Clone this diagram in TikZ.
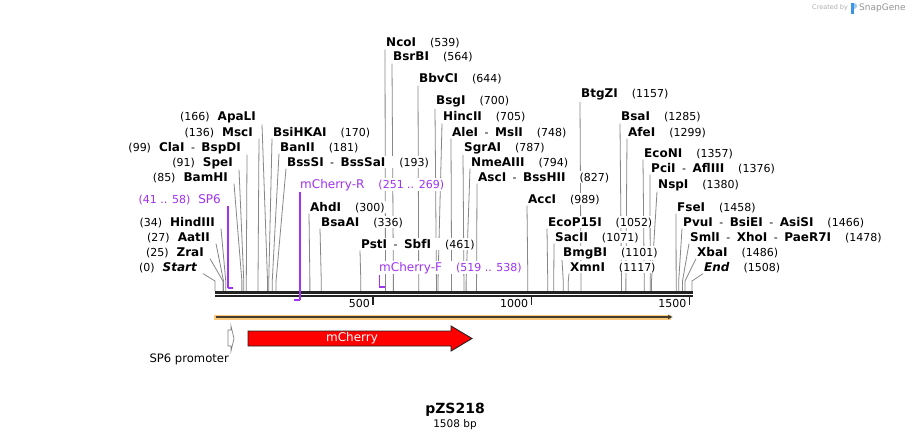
\documentclass[tikz,border=0pt]{standalone}
\usepackage{fontspec}
\setmainfont{DejaVu Sans}
\usetikzlibrary{arrows.meta}
\pgfdeclarelayer{bg}
\pgfsetlayers{bg,main}
\definecolor{linegray}{RGB}{135,135,135}
\definecolor{bbc}{RGB}{35,35,35}
\definecolor{primc}{RGB}{160,50,240}
\definecolor{orfc}{RGB}{250,200,120}
\definecolor{orfd}{RGB}{70,60,45}
\definecolor{featred}{RGB}{255,0,0}
\definecolor{cgray}{RGB}{175,175,175}
\definecolor{sgblue}{RGB}{60,150,230}
\newcommand\enz[1]{{\fontsize{12}{14}\selectfont\bfseries #1}}
\newcommand\ngap{\hspace{14pt}}
\newcommand\lgap{\hspace{8pt}}
\newcommand\sepd{\hspace{6.5pt}-\hspace{6.5pt}}
\begin{document}
\begin{tikzpicture}[x=1pt,y=-1pt,
  cutline/.style={draw=linegray,line width=0.8pt},
  lab/.style={fill=white,inner xsep=1pt,inner ysep=1pt,font=\fontsize{11}{13}\selectfont},
  rlab/.style={lab,anchor=base west},
  llab/.style={lab,anchor=base east},
  primer/.style={draw=primc,line width=2pt},
  primerlead/.style={draw=primc,line width=1.3pt},
  plab/.style={lab,text=primc},
  ticklab/.style={anchor=east,inner sep=0pt,font=\fontsize{11}{13}\selectfont},
]
\begin{pgfonlayer}{bg}
\fill[white] (0,0) rectangle (909,441);
\end{pgfonlayer}
\useasboundingbox (0,0) rectangle (909,441);

% right-hand labels
\foreach \i/\bp/\xx/\yy/\lbl in {
 r1/170/273/132/{\enz{BsiHKAI}\ngap(170)},
 r2/181/280/147/{\enz{BanII}\ngap(181)},
 r3/193/287/162/{\enz{BssSI}\sepd\enz{BssSaI}\ngap(193)},
 r4/300/310/207/{\enz{AhdI}\ngap(300)},
 r5/336/321/222/{\enz{BsaAI}\ngap(336)},
 r6/461/361/244/{\enz{PstI}\sepd\enz{SbfI}\ngap(461)},
 r7/539/386/43/{\enz{NcoI}\ngap(539)},
 r8/564/393/57/{\enz{BsrBI}\ngap(564)},
 r9/644/419/79/{\enz{BbvCI}\ngap(644)},
 r10/700/436/101/{\enz{BsgI}\ngap(700)},
 r11/705/443/117/{\enz{HincII}\ngap(705)},
 r12/748/452/132/{\enz{AleI}\sepd\enz{MslI}\ngap(748)},
 r13/787/464/147/{\enz{SgrAI}\ngap(787)},
 r14/794/471/162/{\enz{NmeAIII}\ngap(794)},
 r15/827/478/177/{\enz{AscI}\sepd\enz{BssHII}\ngap(827)},
 r16/989/528/199/{\enz{AccI}\ngap(989)},
 r17/1052/548/222/{\enz{EcoP15I}\ngap(1052)},
 r18/1071/555/237/{\enz{SacII}\ngap(1071)},
 r19/1101/563/252/{\enz{BmgBI}\ngap(1101)},
 r20/1117/570/267/{\enz{XmnI}\ngap(1117)},
 r21/1157/581/94/{\enz{BtgZI}\ngap(1157)},
 r22/1285/621/117/{\enz{BsaI}\ngap(1285)},
 r23/1299/628/132/{\enz{AfeI}\ngap(1299)},
 r24/1357/644/153/{\enz{EcoNI}\ngap(1357)},
 r25/1376/651/168/{\enz{PciI}\sepd\enz{AflIII}\ngap(1376)},
 r26/1380/658/184/{\enz{NspI}\ngap(1380)},
 r27/1458/677/207/{\enz{FseI}\ngap(1458)},
 r28/1466/683/222/{\enz{PvuI}\sepd\enz{BsiEI}\sepd\enz{AsiSI}\ngap(1466)},
 r29/1478/690/237/{\enz{SmlI}\sepd\enz{XhoI}\sepd\enz{PaeR7I}\ngap(1478)},
 r30/1486/697/252/{\enz{XbaI}\ngap(1486)},
 r31/1508/704/267/{\enz{\itshape End}\ngap(1508)}}
{
 \coordinate (b\i) at ({215+0.3163*\bp},291);
 \node[rlab] (\i) at (\xx-1,\yy+4) {\lbl};
 \begin{pgfonlayer}{bg}
 \draw[cutline] (b\i) -- ++(0,-10) -- (\i.south west);
 \end{pgfonlayer}
}

% left-hand labels
\foreach \i/\bp/\xx/\yy/\lbl in {
 l1/166/256/117/{(166)\lgap\enz{ApaLI}},
 l2/136/253/132/{(136)\lgap\enz{MscI}},
 l3/99/241/147/{(99)\lgap\enz{ClaI}\sepd\enz{BspDI}},
 l4/91/233/162/{(91)\lgap\enz{SpeI}},
 l5/85/228/177/{(85)\lgap\enz{BamHI}},
 l6/34/215/222/{(34)\lgap\enz{HindIII}},
 l7/27/210/237/{(27)\lgap\enz{AatII}},
 l8/25/204/252/{(25)\lgap\enz{ZraI}},
 l9/0/197/267/{(0)\lgap\enz{\itshape Start}}}
{
 \coordinate (b\i) at ({215+0.3163*\bp},291);
 \node[llab] (\i) at (\xx+1,\yy+4) {\lbl};
 \begin{pgfonlayer}{bg}
 \draw[cutline] (b\i) -- ++(0,-10) -- ([xshift=5pt]\i.south east);
 \end{pgfonlayer}
}

% backbone
\draw[bbc,line width=2.7pt] (215,292.3) -- (693,292.3);
\draw[bbc,line width=2pt] (215,296.3) -- (693,296.3);
\foreach \t/\bp in {t5/500,t10/1000,t15/1500}{
 \coordinate (\t) at ({215+0.3163*\bp},297);
 \draw[bbc,line width=1.5pt] (\t) -- ++(0,8);
 \node[ticklab] (\t l) at ([xshift=-3pt,yshift=-6pt]\t) {\bp};
}

% primers
\node[plab,anchor=base east] (p1) at (222,203) {(41 .. 58)\lgap{\fontsize{12}{14}\selectfont SP6}};
\coordinate (sp6a) at ({215+0.3163*41},288);
\coordinate (sp6b) at ({215+0.3163*58},288);
\draw[primer] (sp6b) -- (sp6a);
\draw[primerlead] (sp6a) -- (sp6a |- p1.south);

\node[plab,anchor=base west] (p2) at (299,188) {{\fontsize{12}{14}\selectfont mCherry-R}\ngap(251 .. 269)};
\coordinate (mra) at ({215+0.3163*251},300);
\coordinate (mrb) at ({215+0.3163*269},300);
\draw[primer] (mra) -- (mrb);
\draw[primerlead] (mrb) -- (mrb |- p2.south);

\node[plab,anchor=base west] (p3) at (378,271) {{\fontsize{12}{14}\selectfont mCherry-F}\ngap(519 .. 538)};
\coordinate (mfa) at ({215+0.3163*519},287);
\coordinate (mfb) at ({215+0.3163*538},287);
\draw[primer] (mfb) -- (mfa);
\draw[primerlead] (mfa) -- (mfa |- p3.south);

% ORF bar
\draw[orfc,line width=5pt] (214,317) -- (671,317);
\draw[orfd,line width=1.5pt,-{Latex[length=5pt,width=5pt]}] (216,317) -- (673,317);

% features
\draw[draw=gray,fill=white,line width=0.7pt] (228,330) -- (231,330) -- (231,326) -- (234,338.5) -- (231,351) -- (231,346) -- (228,346) -- cycle;
\node[anchor=east,inner sep=0pt,font=\fontsize{11.6}{13}\selectfont] (sp6p) at (229,359) {SP6 promoter};
\draw[fill=featred,draw=bbc,line width=0.9pt] (248,331) -- (451,331) -- (451,326) -- (472,338.5) -- (451,351) -- (451,346) -- (248,346) -- cycle;
\node[text=white,inner sep=0pt,font=\fontsize{12}{14}\selectfont] (mch) at (352,338.5) {mCherry};

% title
\node[font=\fontsize{14}{16}\selectfont\bfseries,inner sep=0pt] (title) at (455,410) {pZS218};
\node[font=\fontsize{10.5}{12}\selectfont,inner sep=0pt] (len) at (455,425) {1508 bp};

% created by
\node[anchor=base west,text=cgray,font=\fontsize{6.5}{8}\selectfont,inner sep=0pt] (crby) at (812,10) {Created by};
\fill[sgblue] (851,3) rectangle (853.5,14);
\fill[sgblue!50] (853.5,3) .. controls (858,3) and (858,9) .. (853.5,9) -- cycle;
\node[anchor=base west,text=cgray!85!black,font=\fontsize{9}{10}\selectfont,inner sep=0pt] (sg) at (859,11) {SnapGene};
\end{tikzpicture}
\end{document}
